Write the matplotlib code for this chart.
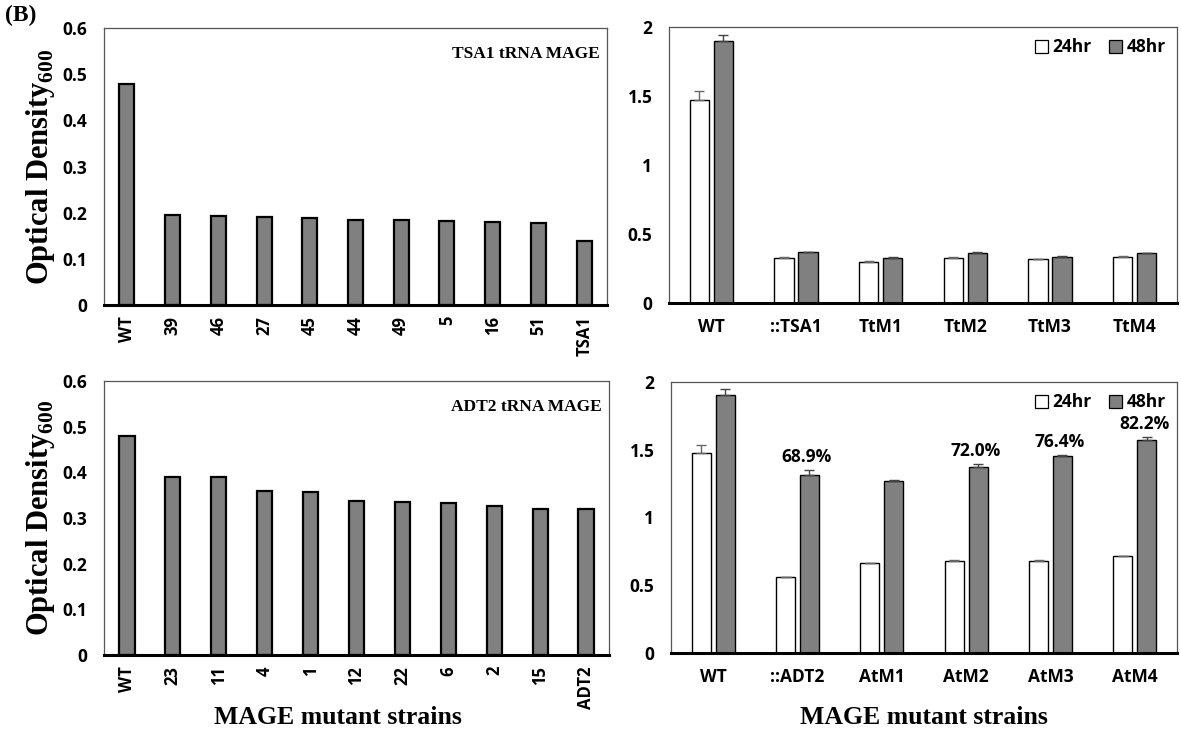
import matplotlib
matplotlib.use("Agg")
import matplotlib.pyplot as plt
import numpy as np
from matplotlib.patches import Patch

plt.rcParams["mathtext.fontset"] = "custom"
plt.rcParams["mathtext.rm"] = "Liberation Serif"
plt.rcParams["mathtext.bf"] = "Liberation Serif:bold"

# ---------------- data ----------------
tsa_labels = ["WT", "39", "46", "27", "45", "44", "49", "5", "16", "51", "TSA1"]
tsa_values = [0.478, 0.195, 0.192, 0.190, 0.189, 0.185, 0.184, 0.182, 0.179, 0.177, 0.138]

adt_labels = ["WT", "23", "11", "4", "1", "12", "22", "6", "2", "15", "ADT2"]
adt_values = [0.480, 0.390, 0.389, 0.360, 0.357, 0.337, 0.334, 0.332, 0.326, 0.320, 0.320]

tt_labels = ["WT", "::TSA1", "TtM1", "TtM2", "TtM3", "TtM4"]
tt_24 = [1.473, 0.326, 0.295, 0.328, 0.316, 0.336]
tt_24_err = [0.06, 0.008, 0.006, 0.004, 0.004, 0.003]
tt_48 = [1.900, 0.367, 0.328, 0.365, 0.336, 0.360]
tt_48_err = [0.04, 0.004, 0.004, 0.006, 0.008, 0.005]

at_labels = ["WT", "::ADT2", "AtM1", "AtM2", "AtM3", "AtM4"]
at_24 = [1.476, 0.558, 0.664, 0.681, 0.681, 0.713]
at_24_err = [0.06, 0.004, 0.002, 0.004, 0.002, 0.002]
at_48 = [1.906, 1.313, 1.272, 1.375, 1.456, 1.569]
at_48_err = [0.04, 0.04, 0.008, 0.022, 0.005, 0.025]
at_pct = ["", "68.9%", "", "72.0%", "76.4%", "82.2%"]

GRAY = "#808080"
SANS = "Open Sans"
SERIF = "Liberation Serif"
TICK_FS = 12.5

fig = plt.figure(figsize=(11.81, 7.35), dpi=100)
W, H = 1181, 735


def ax_px(l, t, r, b):
    return fig.add_axes([l / W, 1 - b / H, (r - l) / W, (b - t) / H])


def style(ax, ymax, yticks, yticklabels):
    ax.set_ylim(0, ymax)
    ax.set_yticks(yticks)
    ax.set_yticklabels(yticklabels, fontfamily=SANS, fontweight="bold", fontsize=TICK_FS)
    ax.tick_params(axis="both", length=0)
    ax.tick_params(axis="y", pad=12)
    for s in ["left", "right", "top"]:
        ax.spines[s].set_color("#555555")
        ax.spines[s].set_linewidth(0.9)
    ax.spines["bottom"].set_color("black")
    ax.spines["bottom"].set_linewidth(2.2)
    ax.spines["bottom"].set_zorder(5)


def single_panel(ax, labels, values, title):
    x = np.arange(len(labels))
    ax.bar(x, values, width=0.33, color=GRAY, edgecolor="black", linewidth=1.6, zorder=3)
    ax.set_xlim(-0.5, len(labels) - 0.5)
    style(ax, 0.6, [0, 0.1, 0.2, 0.3, 0.4, 0.5, 0.6],
          ["0", "0.1", "0.2", "0.3", "0.4", "0.5", "0.6"])
    ax.set_xticks(x)
    ax.set_xticklabels(labels, rotation=90, fontfamily=SANS, fontweight="bold", fontsize=12)
    ax.tick_params(axis="x", pad=8)
    ax.text(0.985, 0.905, title, transform=ax.transAxes, ha="right", va="center",
            fontfamily=SERIF, fontweight="bold", fontsize=12.5)
    ax.set_ylabel(r"Optical Density$_{\mathbf{600}}$", fontfamily=SERIF, fontweight="bold",
                  fontsize=22, labelpad=4)


def double_panel(ax, labels, v24, e24, v48, e48, pct=None):
    x = np.arange(len(labels))
    off, bw = 0.142, 0.225
    ax.bar(x - off, v24, width=bw, color="white", edgecolor="black", linewidth=1.0, zorder=3,
           label="24hr")
    ax.bar(x + off, v48, width=bw, color=GRAY, edgecolor="black", linewidth=1.0, zorder=3,
           label="48hr")
    ax.errorbar(x - off, v24, yerr=[np.zeros(len(v24)), e24], fmt="none", ecolor="#666666",
                elinewidth=1.0, capsize=3.5, capthick=1.0, zorder=4)
    ax.errorbar(x + off, v48, yerr=[np.zeros(len(v48)), e48], fmt="none", ecolor="#444444",
                elinewidth=1.0, capsize=3.5, capthick=1.0, zorder=4)
    ax.set_xlim(-0.5, len(labels) - 0.5)
    style(ax, 2, [0, 0.5, 1, 1.5, 2], ["0", "0.5", "1", "1.5", "2"])
    ax.set_xticks(x)
    ax.set_xticklabels(labels, fontfamily=SANS, fontweight="bold", fontsize=12.5)
    ax.tick_params(axis="x", pad=11)
    if pct is not None:
        for xi, v, e, p in zip(x, v48, e48, pct):
            if p:
                ax.text(xi + off - 0.03, v + e + 0.03, p, ha="center", va="bottom",
                        fontfamily=SANS, fontweight="bold", fontsize=12.5)
    handles = [Patch(facecolor="white", edgecolor="black", linewidth=0.9),
               Patch(facecolor=GRAY, edgecolor="black", linewidth=0.9)]
    ax.legend(handles, ["24hr", "48hr"], loc="upper right", ncol=2, frameon=False,
              handlelength=0.75, handleheight=0.75, handletextpad=0.25, columnspacing=1.0,
              borderaxespad=0.25, bbox_to_anchor=(1.0, 1.0),
              prop={"family": SANS, "weight": "bold", "size": 12.5})


ax1 = ax_px(104, 28, 607, 305)
single_panel(ax1, tsa_labels, tsa_values, "TSA1 tRNA MAGE")

ax2 = ax_px(669, 27, 1177, 303)
double_panel(ax2, tt_labels, tt_24, tt_24_err, tt_48, tt_48_err)

ax3 = ax_px(104, 381, 609, 655)
single_panel(ax3, adt_labels, adt_values, "ADT2 tRNA MAGE")

ax4 = ax_px(671, 382, 1177, 653)
double_panel(ax4, at_labels, at_24, at_24_err, at_48, at_48_err, at_pct)

for cx in (338, 924):
    fig.text(cx / W, 1 - 717 / H, "MAGE mutant strains", fontfamily=SERIF, fontweight="bold",
             fontsize=18.5, ha="center", va="center")

fig.text(5 / W, 1 - 15 / H, "(B)", fontfamily=SERIF, fontweight="bold", fontsize=17,
         ha="left", va="center")

fig.savefig("out.png", dpi=100)
